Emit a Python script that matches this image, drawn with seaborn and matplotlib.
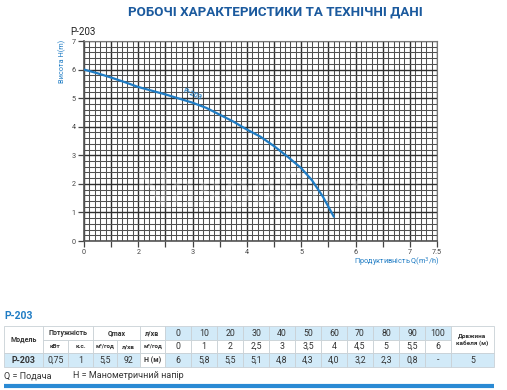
import numpy as np
import matplotlib
matplotlib.use('Agg')
import matplotlib.pyplot as plt
from matplotlib.patches import Rectangle
from matplotlib.ticker import FixedLocator
import seaborn as sns

# curve: flow Q (m3/h) and head H (m)
flow_q = [0, 0.5, 1, 1.5, 2, 2.5, 3, 3.25, 3.5, 3.75, 4, 4.25, 4.5, 4.75, 5, 5.2, 5.4, 5.6]
head_h = [6.0, 5.87, 5.72, 5.56, 5.39, 5.13, 4.84, 4.66, 4.42, 4.18, 3.9, 3.65, 3.32, 2.95, 2.55, 2.12, 1.55, 0.85]

# x axis ticks as printed on the original
x_ticks = [0, 1, 2, 2.5, 3, 3.5, 4, 4.5, 5, 5.5, 6, 6.5, 7, 7.5]
x_tick_labels = ['0', '', '2', '', '3', '', '4', '', '5', '', '6', '', '7', '7.5']
y_ticks = [0, 1, 2, 3, 4, 5, 6, 7]

# table data
flow_lpm = ['0', '10', '20', '30', '40', '50', '60', '70', '80', '90', '100']
flow_m3h = ['0', '1', '2', '2,5', '3', '3,5', '4', '4,5', '5', '5,5', '6']
head_m = ['6', '5,8', '5,5', '5,1', '4,8', '4,3', '4,0', '3,2', '2,3', '0,8', '-']
model_name = 'P-203'
power_kw = '0,75'
power_hp = '1'
qmax_m3h = '5,5'
qmax_lpm = '92'
cable_len = '5'

BLUE = '#1f7cc4'
TITLE_BLUE = '#1b5a9e'
LIGHT = '#d2eaf8'


def fwd(q):
    q = np.asarray(q, dtype=float)
    return np.where(q <= 2, q, 2 + 2 * (q - 2))


def inv(p):
    p = np.asarray(p, dtype=float)
    return np.where(p <= 2, p, 2 + (p - 2) / 2)


sns.set_theme(style='white')
plt.rcParams['font.family'] = ['Roboto', 'DejaVu Sans']

fig = plt.figure(figsize=(5.07, 3.9), dpi=100)

# ---- table / text layer in pixel coordinates
tax = fig.add_axes([0, 0, 1, 1])
tax.set_xlim(0, 507)
tax.set_ylim(390, 0)
tax.axis('off')
tax.patch.set_alpha(0)

fig.text(275 / 507, 1 - 12 / 390, 'РОБОЧІ ХАРАКТЕРИСТИКИ ТА ТЕХНІЧНІ ДАНІ', ha='center', va='center',
         fontsize=9.6, fontweight='bold', color=TITLE_BLUE)
fig.text(70 / 507, 1 - 32 / 390, 'P-203', ha='left', va='center', fontsize=7, color='#222')


def cell(x0, x1, y0, y1, text, fc='white', bold=False, fs=6.3, color='#333'):
    tax.add_patch(Rectangle((x0, y0), x1 - x0, y1 - y0, facecolor=fc, edgecolor='#c9d1d6', lw=0.6))
    tax.text((x0 + x1) / 2, (y0 + y1) / 2 + 0.3, text, ha='center', va='center', fontsize=fs,
             fontweight='bold' if bold else 'normal', color=color)


r0, r1, r2, r3 = 326, 339.5, 353, 366.5
cell(4, 43, r0, r2, 'Модель', bold=True, fs=5)
cell(43, 93, r0, r1, 'Потужність', bold=True, fs=5)
cell(93, 140, r0, r1, 'Qmax', bold=True, fs=5)
cell(140, 165, r0, r1, 'л/хв', bold=True, fs=5)
cell(43, 68, r1, r2, 'кВт', bold=True, fs=4.6)
cell(68, 93, r1, r2, 'к.с.', bold=True, fs=4.6)
cell(93, 117, r1, r2, 'м³/год', bold=True, fs=4.3)
cell(117, 140, r1, r2, 'л/хв', bold=True, fs=4.6)
cell(140, 165, r1, r2, 'м³/год', bold=True, fs=4.3)
for i in range(len(flow_lpm)):
    x0 = 165 + 26 * i
    cell(x0, x0 + 26, r0, r1, flow_lpm[i], fc=LIGHT)
    cell(x0, x0 + 26, r1, r2, flow_m3h[i])
    cell(x0, x0 + 26, r2, r3, head_m[i], fc=LIGHT)
cell(451, 494, r0, r2, 'Довжина\nкабеля (м)', bold=True, fs=4.6)
cell(4, 43, r2, r3, model_name, fc=LIGHT, bold=True)
cell(43, 68, r2, r3, power_kw, fc=LIGHT)
cell(68, 93, r2, r3, power_hp, fc=LIGHT)
cell(93, 117, r2, r3, qmax_m3h, fc=LIGHT)
cell(117, 140, r2, r3, qmax_lpm, fc=LIGHT)
cell(140, 165, r2, r3, 'H (м)', bold=True, fs=5)
cell(451, 494, r2, r3, cable_len, fc=LIGHT)

tax.text(4, 316, 'P-203', ha='left', va='center', fontsize=7.5, fontweight='bold', color=BLUE)
tax.text(4, 376, 'Q = Подача', ha='left', va='center', fontsize=6.5, color='#333')
tax.text(73, 376, 'H = Манометричний напір', ha='left', va='center', fontsize=6.5, color='#333')
tax.plot([4, 494], [386, 386], color='#2a8ad4', lw=3, solid_capstyle='butt')

# ---- chart
ax = fig.add_axes([84 / 507, 1 - 241 / 390, 353 / 507, 200 / 390])
ax.set_xscale('function', functions=(fwd, inv))
ax.set_xlim(0, 7.5)
ax.set_ylim(0, 7)

minor_x = list(np.arange(0, 2, 0.2)) + list(np.arange(2, 7.5001, 0.1))
ax.xaxis.set_major_locator(FixedLocator(x_ticks))
ax.xaxis.set_minor_locator(FixedLocator(minor_x))
ax.set_xticklabels(x_tick_labels)
ax.set_yticks(y_ticks)
ax.yaxis.set_minor_locator(FixedLocator(np.arange(0, 7.001, 0.2)))
ax.grid(which='minor', color='#505050', lw=0.75)
ax.grid(which='major', color='#2e2e2e', lw=1.0)
ax.set_axisbelow(True)
ax.tick_params(which='major', direction='out', length=4, width=0.9, color='#444',
               labelsize=5.2, labelcolor='#444', pad=2, bottom=True, left=True)
ax.tick_params(which='minor', length=0)
for side in ['top', 'right']:
    ax.spines[side].set_color('#777')
    ax.spines[side].set_linewidth(0.8)
for side in ['left', 'bottom']:
    ax.spines[side].set_color('#555')
    ax.spines[side].set_linewidth(1.2)

sns.lineplot(x=flow_q, y=head_h, ax=ax, sort=False, color=BLUE, lw=1.6, zorder=5)
ax.set_xlabel('')
ax.set_ylabel('')

ax.text(3.0, 4.88, 'P-203', rotation=-24, ha='center', va='bottom', fontsize=5.4, color=BLUE,
        fontweight='medium', zorder=6)

# faint watermark, under the curve
ax.text(255 / 507, 1 - 193 / 390, 'NasosPlus', transform=fig.transFigure, ha='center', va='center',
        fontsize=36, color='white', alpha=0.22, zorder=4)

fig.text(440 / 507, 1 - 262 / 390, 'Продуктивність Q(m$^3$/h)', ha='right', va='center', fontsize=5.3, color=BLUE)
fig.text(62 / 507, 1 - 40 / 390, 'Висота H(m)', ha='center', va='top', rotation=90, fontsize=5.3, color=BLUE)

fig.savefig('out.png', dpi=100)
